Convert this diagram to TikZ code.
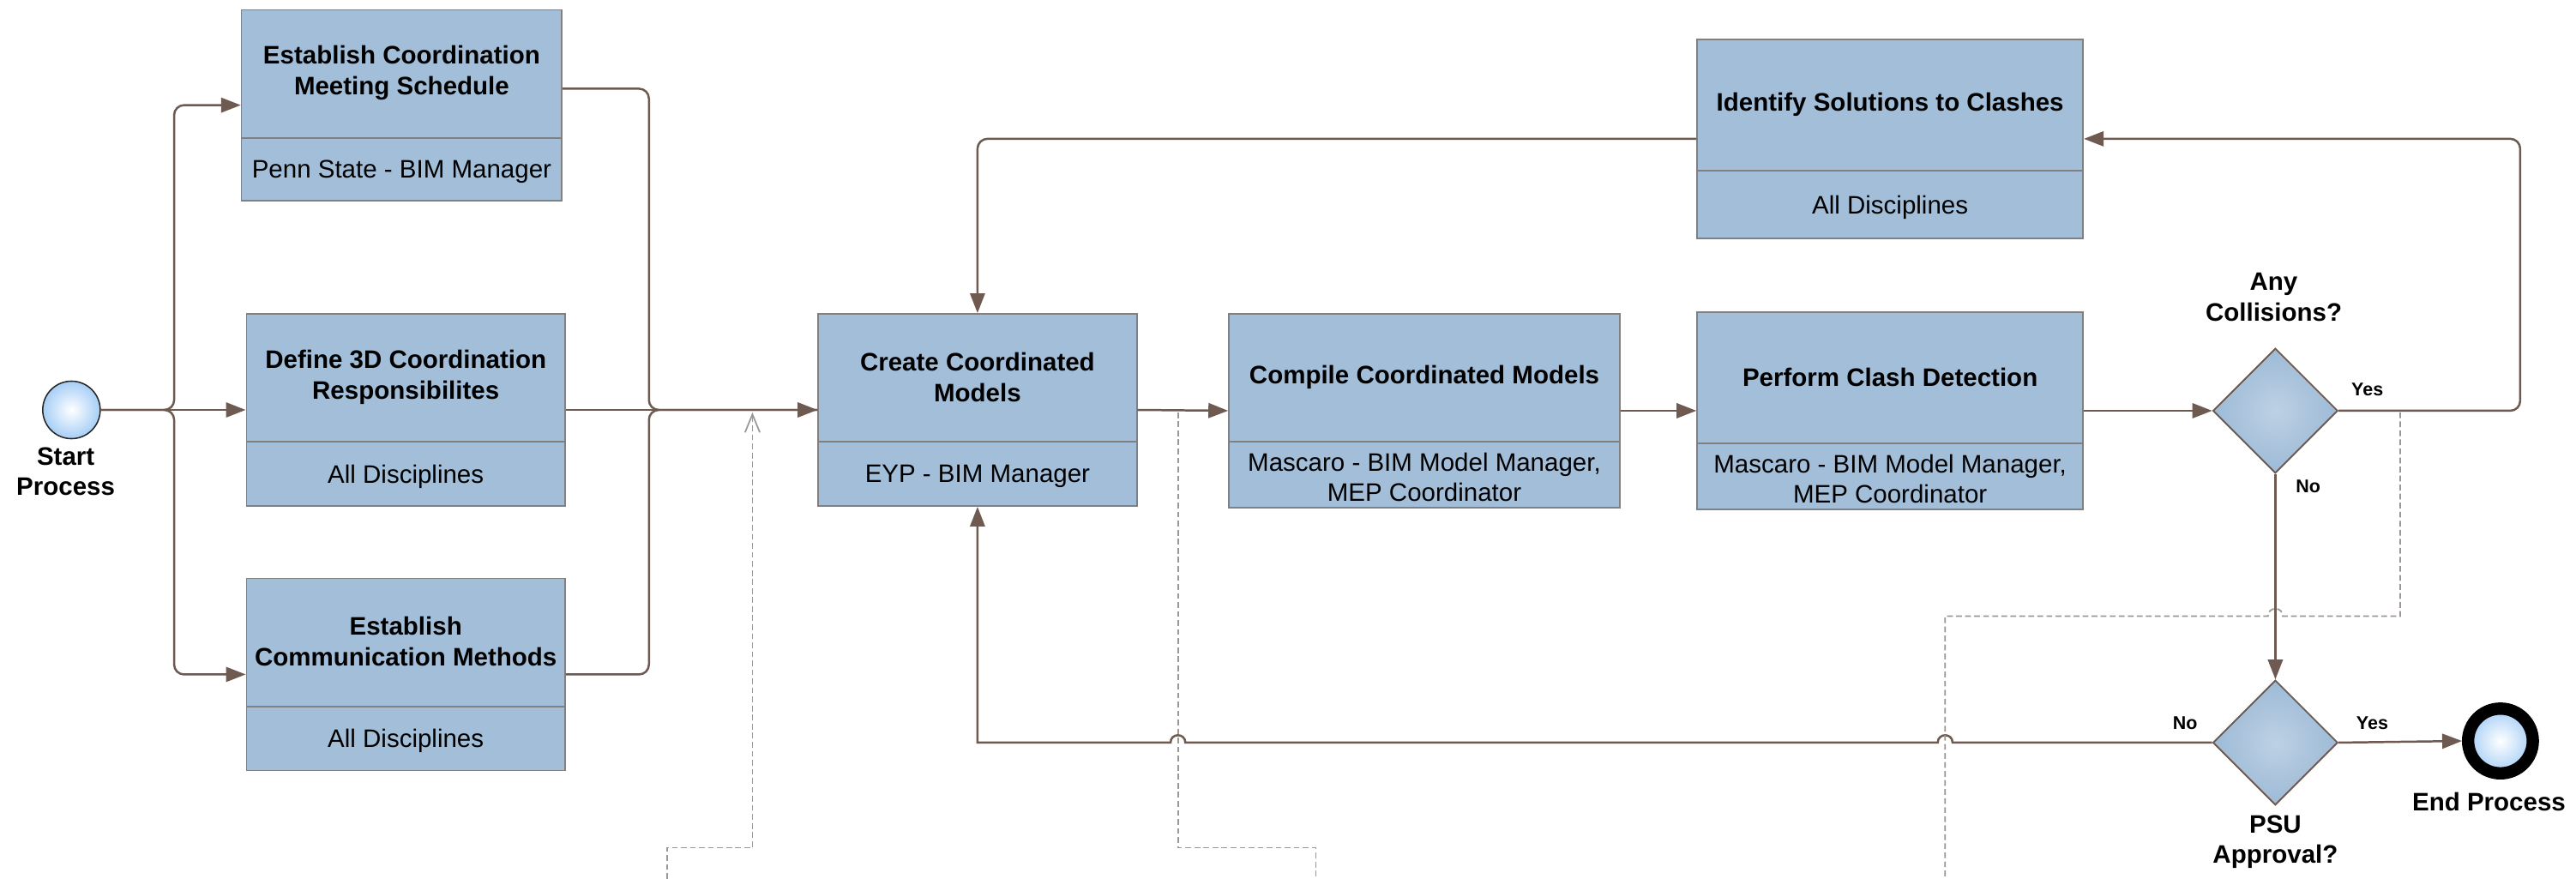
\documentclass[tikz,border=0pt]{standalone}
\usepackage{fontspec}
\setmainfont{Liberation Sans}
\usetikzlibrary{arrows.meta,shapes.geometric,calc}
\definecolor{boxfill}{HTML}{A2BED8}
\definecolor{boxline}{HTML}{808080}
\definecolor{connc}{HTML}{6E5A51}
\definecolor{dashc}{HTML}{9C9694}
\definecolor{evblue}{HTML}{A6CEF6}
\definecolor{dmin}{HTML}{BDD1E4}
\definecolor{dmout}{HTML}{9DBAD6}
\tikzset{
 box/.style={rectangle, draw=boxline, fill=boxfill, line width=0.9pt, inner sep=0pt},
 divline/.style={draw=boxline, line width=0.9pt},
 titletext/.style={font={\bfseries\fontsize{15.4}{18.6}\selectfont}, align=center, inner sep=0pt},
 subtext/.style={font={\fontsize{15.4}{18.6}\selectfont}, align=center, inner sep=0pt},
 lbl/.style={font={\bfseries\fontsize{15.4}{18.6}\selectfont}, align=center, inner sep=0pt},
 smalllbl/.style={font={\bfseries\fontsize{11.2}{13}\selectfont}, inner sep=0pt},
 conn/.style={draw=connc, line width=1.3pt},
 flow/.style={conn, -{Triangle[length=12pt,width=9pt]}},
 assoc/.style={draw=dashc, line width=0.9pt, dash pattern=on 3.5pt off 2pt},
 startev/.style={circle, draw=black!85, line width=0.8pt, minimum size=35pt, inner sep=0pt, inner color=white, outer color=evblue},
 endev/.style={circle, draw=black, line width=7.5pt, minimum size=39.4pt, inner sep=0pt, inner color=white, outer color=evblue},
 decision/.style={diamond, draw=connc, line width=1pt, minimum width=76pt, minimum height=76pt, inner sep=0pt, inner color=dmin, outer color=dmout},
}
\newcommand\taskbox[8]{%
  \node[box, minimum width={#4-#2}, minimum height={#5-#3}] (#1) at ({(#2+#4)/2},{(#3+#5)/2}) {};
  \draw[divline] ({#2},{#6}) -- ({#4},{#6});
  \node[titletext] (#1t) at ({(#2+#4)/2},{(#3+#6)/2-0.5}) {#7};
  \node[subtext] (#1s) at ({(#2+#4)/2},{(#6+#5)/2+1.5}) {#8};
}
\begin{document}
\begin{tikzpicture}[x=1pt,y=-1pt]
\useasboundingbox[fill=white] (0,0) rectangle (1568,535);

\coordinate (a1s) at (406,535);
\coordinate (a2s) at (801,535);
\coordinate (a3s) at (1184,535);

% task boxes
\taskbox{b1}{147}{6}{342}{122}{84}{Establish Coordination\\Meeting Schedule}{Penn State - BIM Manager}
\taskbox{b2}{150}{191}{344}{308}{269}{Define 3D Coordination\\Responsibilites}{All Disciplines}
\taskbox{b3}{150}{352}{344}{469}{430}{Establish\\Communication Methods}{All Disciplines}
\taskbox{b4}{498}{191}{692}{308}{269}{Create Coordinated\\Models}{EYP - BIM Manager}
\taskbox{b5}{748}{191}{986}{309}{269}{Compile Coordinated Models}{Mascaro - BIM Model Manager,\\MEP Coordinator}
\taskbox{b6}{1033}{190}{1268}{310}{270}{Perform Clash Detection}{Mascaro - BIM Model Manager,\\MEP Coordinator}
\taskbox{b7}{1033}{24}{1268}{145}{104}{Identify Solutions to Clashes}{All Disciplines}

% events and gateways
\node[startev] (start) at (43.5,249.5) {};
\node[lbl] (startl) at (40,287) {Start\\Process};
\node[decision] (d1) at (1385,250) {};
\node[lbl] (d1l) at (1384,181) {Any\\Collisions?};
\node[decision] (d2) at (1385,452) {};
\node[lbl] (d2l) at (1385,512.5) {PSU\\Approval?};
\node[endev] (end) at (1522,451) {};
\node[lbl] (endl) at (1515,488) {End Process};

% junctions
\coordinate (J1) at (106,249.5);
\coordinate (J2) at (395,249.5);
\coordinate (C1) at (1534,84.5);

% flows from start
\draw[flow] (start) -- (b2.west);
\draw[flow, rounded corners=6] (start) -- (J1) |- (b1.west);
\draw[flow, rounded corners=6] (start) -- (J1) |- (b3.west);
% merge into b4
\draw[conn, rounded corners=6] (b1.east |- 0,54) -| (J2) -- (b4.west);
\draw[conn, rounded corners=6] (b3.east) -| (J2) -- (b4.west);
\draw[flow] (b2.east) -- (b4.west);
% main sequence
\draw[flow] (b4.east) -- (b5.west);
\draw[flow] (b5.east) -- (b6.west);
\draw[flow] (b6.east) -- (d1.west);
\draw[flow, rounded corners=6] (d1.east) -| (C1) -- (b7.east);
\draw[flow, rounded corners=6] (b7.west) -| (b4.north);
\draw[flow] (d1.south) -- (d2.north);
\draw[flow] (d2.east) -- (end.west);
\draw[flow] (d2.west) -- (1188.5,452) .. controls (1188.5,446) and (1179.5,446) .. (1179.5,452)
  -- (721.5,452) .. controls (721.5,446) and (712.5,446) .. (712.5,452)
  -- (b4.south |- 0,452) -- (b4.south);

% dashed associations
\draw[assoc, -{Straight Barb[length=11pt,width=9pt]}] (a1s) -- (406,516) -- (458,516) -- (458,251);
\draw[assoc] (717,251) -- (717,516) -- (801,516) -- (a2s);
\draw[assoc] (1461,251) -- (1461,375) -- (1389.5,375) .. controls (1389.5,369) and (1380.5,369) .. (1380.5,375) -- (1184,375) -- (a3s);

% gateway labels
\node[smalllbl] (y1) at (1441,237) {Yes};
\node[smalllbl] (n1) at (1405,296) {No};
\node[smalllbl] (n2) at (1330,440) {No};
\node[smalllbl] (y2) at (1444,440) {Yes};
\end{tikzpicture}
\end{document}
